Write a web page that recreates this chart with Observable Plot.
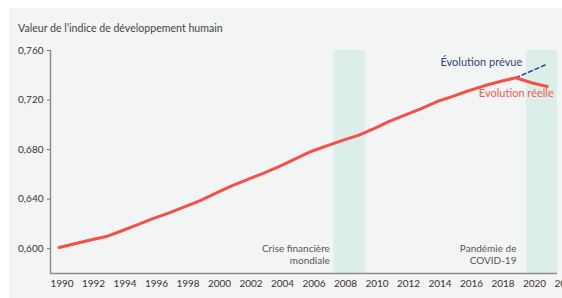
<!DOCTYPE html>
<html><head><meta charset="utf-8">
<script src="https://cdn.jsdelivr.net/npm/d3@7"></script>
<script src="https://cdn.jsdelivr.net/npm/@observablehq/plot@0.6"></script>
<style>
html,body{margin:0;padding:0;background:#fff;overflow:hidden;}
#page{position:relative;width:562px;height:298px;overflow:hidden;}
#panel{position:absolute;left:9px;top:8px;width:553px;height:290px;background:#f3f5f4;}
#title{padding:14px 0 0 9px;height:13px;line-height:13px;font-family:Lato,sans-serif;font-size:10.6px;color:#444;white-space:nowrap;}
#chart svg{overflow:visible;}
</style></head>
<body><div id="page"><div id="panel"><div id="title">Valeur de l’indice de développement humain</div><div id="chart"></div></div></div>
<script>
const years = [1990,1991,1992,1993,1994,1995,1996,1997,1998,1999,2000,2001,2002,2003,2004,2005,2006,2007,2008,2009,2010,2011,2012,2013,2014,2015,2016,2017,2018,2019,2020,2021];
const actualValues = [0.601,0.604,0.607,0.6098,0.6145,0.6195,0.6245,0.629,0.634,0.639,0.645,0.651,0.656,0.661,0.6665,0.6725,0.6785,0.683,0.6875,0.6915,0.697,0.703,0.708,0.713,0.7188,0.723,0.7275,0.7315,0.735,0.738,0.734,0.731];
const forecastYears = [2019, 2021];
const forecastValues = [0.738, 0.749];
const crisisLabels = ["Crise financière\nmondiale", "Pandémie de\nCOVID-19"];
const crisisStart = [2007.45, 2019.68];
const crisisEnd = [2009.45, 2021.65];
const xTicks = [1990,1992,1994,1996,1998,2000,2002,2004,2006,2008,2010,2012,2014,2016,2018,2020,2022];
const yTicks = [0.600,0.640,0.680,0.720,0.760];
const seriesLabels = ["Évolution prévue", "Évolution réelle"];

const actual = years.map((y,i)=>({year:y, value:actualValues[i]}));
const forecast = forecastYears.map((y,i)=>({year:y, value:forecastValues[i]}));
const crises = crisisLabels.map((l,i)=>({label:l, start:crisisStart[i], end:crisisEnd[i]}));
const X0 = 1989.46, Y0 = 0.58, Y1 = 0.76;

const chart = Plot.plot({
  width: 553, height: 263,
  marginLeft: 41, marginRight: 5, marginTop: 15, marginBottom: 25,
  style: {background: "transparent", fontFamily: "Lato, sans-serif", fontSize: "10px", color: "#333", overflow: "visible"},
  x: {domain: [X0, 2021.65]},
  y: {domain: [Y0, Y1]},
  marks: [
    Plot.rect(crises, {x1: "start", x2: "end", y1: () => Y0, y2: () => Y1, fill: "#dbeeea"}),
    Plot.ruleY([Y0], {stroke: "#8c8c8c", strokeWidth: 1.5}),
    Plot.ruleX([X0], {stroke: "#8c8c8c", strokeWidth: 1.5}),
    Plot.axisY({ticks: yTicks, tickFormat: d => d.toFixed(3).replace(".", ","), tickSize: 3, tickPadding: 4, label: null, stroke: "#777", fill: "#333"}),
    Plot.axisX({ticks: xTicks, tickFormat: d => String(d), tickSize: 0, tickPadding: 6, dx: 3, label: null, fill: "#333"}),
    Plot.text([crises[0]], {x: "start", y: () => 0.5956, text: "label", textAnchor: "end", dx: -4, lineHeight: 1.2, fill: "#555", fontSize: 10}),
    Plot.text([crises[1]], {x: "start", y: () => 0.5956, text: "label", textAnchor: "end", dx: -10, lineHeight: 1.2, fill: "#555", fontSize: 10}),
    Plot.line(forecast, {x: "year", y: "value", stroke: "#2e3f7f", strokeWidth: 1.5, strokeDasharray: "4,3"}),
    Plot.line(actual, {x: "year", y: "value", stroke: "#f4504a", strokeWidth: 3}),
    Plot.text([seriesLabels[0]], {x: () => 2019, y: () => 0.7503, text: d => d, textAnchor: "end", dx: 6.5, fill: "#34437e", fontSize: 11}),
    Plot.text([seriesLabels[1]], {x: () => 2021, y: () => 0.7253, text: d => d, textAnchor: "end", dx: 6.5, fill: "#f05a50", fontSize: 11})
  ]
});
document.getElementById("chart").appendChild(chart);
</script></body></html>
